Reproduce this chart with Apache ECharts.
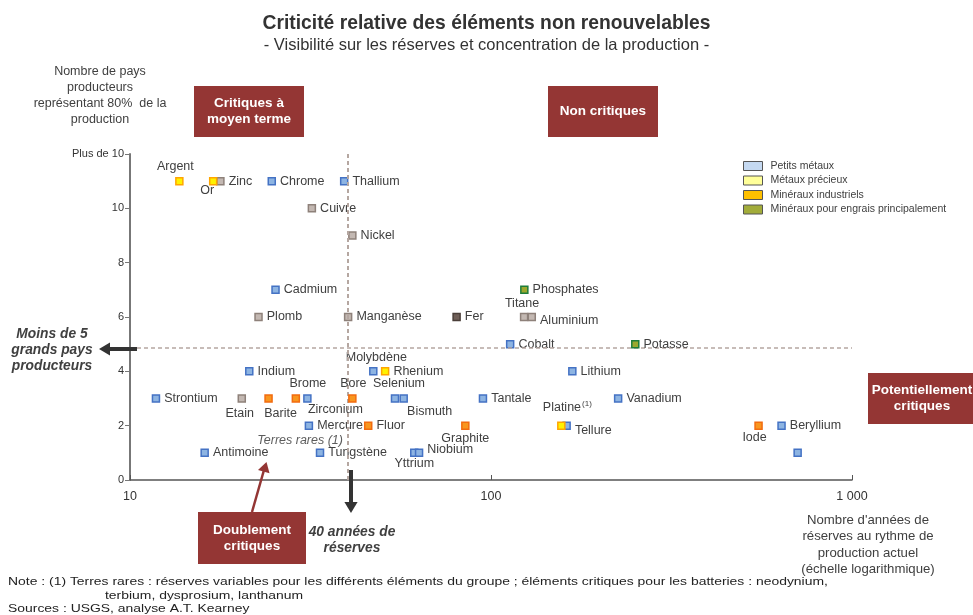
<!DOCTYPE html>
<html>
<head>
<meta charset="utf-8">
<script src="https://cdn.jsdelivr.net/npm/echarts@6/dist/echarts.min.js"></script>
<style>
html,body{margin:0;padding:0;background:#fff;}
#chart{width:973px;height:615px;}
</style>
</head>
<body>
<div id="chart"></div>
<script>
// ---------- DATA ----------
const categoryNames = ['Petits métaux', 'Métaux précieux', 'Minéraux industriels', 'Minéraux pour engrais principalement'];

const smallMetalNames = ['Chrome','Thallium','Cadmium','Cobalt','Indium','Molybdène','Lithium','Strontium','Zirconium','Selenium','Bismuth','Tantale','Vanadium','Mercure','Tellure','Beryllium','Antimoine','Tungstène','Yttrium','Niobium',''];
const smallMetalYears = [24.7,39.2,25.3,113,21.4,47.2,168,11.8,31.0,54.2,57.3,95,225,31.3,162,638,16.1,33.6,61.3,63.2,707];
const smallMetalProducers = [11,11,7,5,4,4,4,3,3,3,3,3,3,2,2,2,1,1,1,1,1];

const preciousNames = ['Argent','Or','Rhenium','Platine'];
const preciousYears = [13.7,17.0,50.9,156.6];
const preciousProducers = [11,11,4,2];

const industrialNames = ['Barite','Brome','Bore','Fluor','Graphite','Iode'];
const industrialYears = [24.2,28.8,41.3,45.7,84.9,551];
const industrialProducers = [3,3,3,2,2,2];

const fertilizerNames = ['Phosphates','Potasse'];
const fertilizerYears = [123.7,251];
const fertilizerProducers = [7,5];

const baseMetalNames = ['Zinc','Cuivre','Nickel','Plomb','Manganèse','Titane','Aluminium','Etain'];
const baseMetalYears = [17.8,31.9,41.3,22.7,40.2,123.5,129.7,20.4];
const baseMetalProducers = [11,10,9,6,6,6,6,3];

const ironNames = ['Fer'];
const ironYears = [80.3];
const ironProducers = [6];

const rareEarthNote = ['Terres rares (1)'];
const rareEarthYears = [29.6];
const rareEarthProducers = [1.45];

const reserveThreshold = 40;      // années
const producerThreshold = 4.85;   // pays
const xTickLabels = {10: '10', 100: '100', 1000: '1 000'};
const yTickLabels = {0:'0',2:'2',4:'4',6:'6',8:'8',10:'10',12:'Plus de 10'};

// ---------- STYLES ----------
const labelPlacement = {
  'Argent': ['top', [-4, 0]],
  'Or': ['bottom', [-6, -5]],
  'Titane': ['top', [-2, 1]],
  'Aluminium': ['right', [0, 4]],
  'Molybdène': ['top', [3, 1]],
  'Etain': ['bottom', [-2, 0]],
  'Barite': ['bottom', [12, 0]],
  'Brome': ['top', [12, 0]],
  'Zirconium': ['bottom', [28, -4]],
  'Bore': ['top', [1, 0]],
  'Selenium': ['top', [4, 0]],
  'Bismuth': ['bottom', [26, -2]],
  'Graphite': ['bottom', [0, -2]],
  'Platine': ['top', [6, -2]],
  'Tellure': ['right', [0, 5]],
  'Iode': ['bottom', [-4, -3]],
  'Yttrium': ['bottom', [0, -4]],
  'Niobium': ['right', [0, -3]]
};
const TXT = '#404040';
const FONT = '"Liberation Sans", Arial, sans-serif';
const RED = '#943634';

function buildData(names, xs, ys) {
  return names.map((n, i) => {
    const p = labelPlacement[n] || ['right', [0, 0]];
    const d = { name: n, value: [xs[i], ys[i]], label: { position: p[0], offset: p[1] } };
    if (n === 'Platine') {
      d.label.formatter = '{a|Platine}{s|(1)}';
    }
    if (n === '') d.label.show = false;
    return d;
  });
}

function scatter(name, names, xs, ys, fill, border, z) {
  return {
    name: name,
    type: 'scatter',
    symbol: 'rect',
    symbolSize: 7,
    z: z || 2,
    itemStyle: { color: fill, borderColor: border, borderWidth: 1.5, opacity: 1 },
    label: {
      show: true, formatter: '{b}', color: TXT, fontFamily: FONT, fontSize: 12.5, distance: 4,
      rich: {
        a: { color: TXT, fontFamily: FONT, fontSize: 12.5 },
        s: { color: TXT, fontFamily: FONT, fontSize: 8, verticalAlign: 'top', padding: [0,0,8,1] }
      }
    },
    emphasis: { disabled: true },
    data: buildData(names, xs, ys)
  };
}

const chart = echarts.init(document.getElementById('chart'), null, { renderer: 'canvas' });

function arrowHead(x, y, dx, dy, size, color) {
  const len = Math.hypot(dx, dy); const ux = dx / len, uy = dy / len;
  const bx = x - ux * size, by = y - uy * size;
  const px = -uy * size * 0.6, py = ux * size * 0.6;
  return { type: 'polygon', shape: { points: [[x, y], [bx + px, by + py], [bx - px, by - py]] }, style: { fill: color }, z: 50 };
}

const BOXFONT = 'bold 13.5px ' + FONT;
const NOTEFONT = '11.8px ' + FONT;
const graphics = [
  // y-axis name
  { type: 'text', x: 100, y: 96, style: { text: 'Nombre de pays\nproducteurs\nreprésentant 80%  de la\nproduction', fill: TXT, font: '12.5px ' + FONT, textAlign: 'center', textVerticalAlign: 'middle', lineHeight: 16 } , z: 40},
  // boxes
  { type: 'rect', shape: { x: 194, y: 86, width: 110, height: 51 }, style: { fill: RED }, z: 40 },
  { type: 'text', x: 249, y: 111.5, style: { text: 'Critiques à\nmoyen terme', fill: '#fff', font: BOXFONT, textAlign: 'center', textVerticalAlign: 'middle', lineHeight: 16 }, z: 41 },
  { type: 'rect', shape: { x: 548, y: 86, width: 110, height: 51 }, style: { fill: RED }, z: 40 },
  { type: 'text', x: 603, y: 111.5, style: { text: 'Non critiques', fill: '#fff', font: BOXFONT, textAlign: 'center', textVerticalAlign: 'middle' }, z: 41 },
  { type: 'rect', shape: { x: 868, y: 373, width: 110, height: 51 }, style: { fill: RED }, z: 40 },
  { type: 'text', x: 922, y: 398.5, style: { text: 'Potentiellement\ncritiques', fill: '#fff', font: BOXFONT, textAlign: 'center', textVerticalAlign: 'middle', lineHeight: 16 }, z: 41 },
  { type: 'rect', shape: { x: 198, y: 512, width: 108, height: 52 }, style: { fill: RED }, z: 40 },
  { type: 'text', x: 252, y: 538, style: { text: 'Doublement\ncritiques', fill: '#fff', font: BOXFONT, textAlign: 'center', textVerticalAlign: 'middle', lineHeight: 16 }, z: 41 },
  // red arrow
  { type: 'line', shape: { x1: 252, y1: 512, x2: 264, y2: 470 }, style: { stroke: RED, lineWidth: 2.5 }, z: 50 },
  arrowHead(266.5, 462, 14, -49, 10, RED),
  // down arrow (40 years)
  { type: 'line', shape: { x1: 351, y1: 470, x2: 351, y2: 503 }, style: { stroke: '#333', lineWidth: 4 }, z: 50 },
  arrowHead(351, 513, 0, 1, 11, '#333'),
  { type: 'text', x: 352, y: 540, style: { text: '40 années de\nréserves', fill: TXT, font: 'italic bold 13.8px ' + FONT, textAlign: 'center', textVerticalAlign: 'middle', lineHeight: 16 }, z: 41 },
  // left arrow
  { type: 'line', shape: { x1: 137, y1: 349, x2: 108, y2: 349 }, style: { stroke: '#333', lineWidth: 4 }, z: 50 },
  arrowHead(99, 349, -1, 0, 11, '#333'),
  { type: 'text', x: 52, y: 350, style: { text: 'Moins de 5\ngrands pays\nproducteurs', fill: TXT, font: 'italic bold 13.8px ' + FONT, textAlign: 'center', textVerticalAlign: 'middle', lineHeight: 16 }, z: 41 },
  // x-axis name
  { type: 'text', x: 868, y: 545, style: { text: "Nombre d'années de\nréserves au rythme de\nproduction actuel\n(échelle logarithmique)", fill: TXT, font: '13.2px ' + FONT, textAlign: 'center', textVerticalAlign: 'middle', lineHeight: 16.5 }, z: 41 },
  // footer
  { type: 'text', x: 8, y: 582, scaleX: 1.18, style: { text: 'Note : (1) Terres rares : réserves variables pour les différents éléments du groupe ; éléments critiques pour les batteries : neodynium,', fill: '#222', font: NOTEFONT, textVerticalAlign: 'middle' }, z: 41 },
  { type: 'text', x: 105, y: 595.5, scaleX: 1.18, style: { text: 'terbium, dysprosium, lanthanum', fill: '#222', font: NOTEFONT, textVerticalAlign: 'middle' }, z: 41 },
  { type: 'text', x: 8, y: 608.5, scaleX: 1.18, style: { text: 'Sources : USGS, analyse A.T. Kearney', fill: '#222', font: NOTEFONT, textVerticalAlign: 'middle' }, z: 41 }
];

const option = {
  backgroundColor: '#fff',
  animation: false,
  title: {
    text: 'Criticité relative des éléments non renouvelables',
    subtext: '- Visibilité sur les réserves et concentration de la production -',
    left: 'center', top: 9, itemGap: 4,
    textStyle: { fontFamily: FONT, fontSize: 19.3, fontWeight: 'bold', color: '#333' },
    subtextStyle: { fontFamily: FONT, fontSize: 16.5, color: '#333' }
  },
  legend: {
    orient: 'vertical', left: 743, top: 160, padding: 0, itemWidth: 19, itemHeight: 9, itemGap: 2.5,
    selectedMode: false,
    textStyle: { fontFamily: FONT, fontSize: 10.5, lineHeight: 12, color: TXT, padding: [0, 0, 0, 3] },
    data: [
      { name: categoryNames[0], icon: 'rect', itemStyle: { color: '#C5D9F1', borderColor: '#555', borderWidth: 1 } },
      { name: categoryNames[1], icon: 'rect', itemStyle: { color: '#FFFF99', borderColor: '#555', borderWidth: 1 } },
      { name: categoryNames[2], icon: 'rect', itemStyle: { color: '#FFC000', borderColor: '#555', borderWidth: 1 } },
      { name: categoryNames[3], icon: 'rect', itemStyle: { color: '#A2AC3A', borderColor: '#555', borderWidth: 1 } }
    ]
  },
  grid: { left: 130, right: 121, top: 154, bottom: 135, containLabel: false },
  xAxis: {
    type: 'log', logBase: 10, min: 10, max: 1000,
    axisLine: { lineStyle: { color: '#555', width: 1.5 } },
    axisTick: { inside: true, length: 5, lineStyle: { color: '#555' } },
    minorTick: { show: false },
    splitLine: { show: false },
    axisLabel: { color: '#333', fontFamily: FONT, fontSize: 12.5, margin: 10, formatter: v => xTickLabels[Math.round(v)] || '' }
  },
  yAxis: {
    type: 'value', min: 0, max: 12, interval: 2,
    axisLine: { show: true, lineStyle: { color: '#777', width: 2 } },
    axisTick: { show: true, length: 5, lineStyle: { color: '#777' } },
    splitLine: { show: false },
    axisLabel: { color: '#333', fontFamily: FONT, fontSize: 11, margin: 6, formatter: v => yTickLabels[v] }
  },
  series: [
    {
      name: 'seuils', type: 'scatter', data: [], silent: true,
      markLine: {
        silent: true, symbol: ['none', 'none'], animation: false,
        label: { show: false },
        lineStyle: { color: '#B5A7A1', type: [4, 3], width: 2 },
        data: [
          [{ coord: [reserveThreshold, 0] }, { coord: [reserveThreshold, 12] }],
          [{ coord: [10, producerThreshold], lineStyle: { width: 1.5 } }, { coord: [1000, producerThreshold] }]
        ]
      }
    },
    scatter('Métaux de base', baseMetalNames, baseMetalYears, baseMetalProducers, '#C3B8B2', '#8E817A', 3),
    scatter('Fer', ironNames, ironYears, ironProducers, '#6F5F58', '#4A3E39', 3),
    scatter(categoryNames[0], smallMetalNames, smallMetalYears, smallMetalProducers, '#8DB4E2', '#4472C4', 4),
    scatter(categoryNames[1], preciousNames, preciousYears, preciousProducers, '#FFF200', '#FFA500', 5),
    scatter(categoryNames[2], industrialNames, industrialYears, industrialProducers, '#F8961E', '#F26B0F', 5),
    scatter(categoryNames[3], fertilizerNames, fertilizerYears, fertilizerProducers, '#9BA82E', '#1E7D3A', 5),
    {
      name: 'note', type: 'scatter', symbolSize: 0, silent: true,
      label: { show: true, position: 'inside', formatter: '{b}', color: '#333', fontFamily: FONT, fontSize: 12.5, fontStyle: 'italic' },
      data: rareEarthNote.map((n, i) => ({ name: n, value: [rareEarthYears[i], rareEarthProducers[i]] }))
    }
  ],
  graphic: graphics
};
chart.setOption(option);
</script>
</body>
</html>
